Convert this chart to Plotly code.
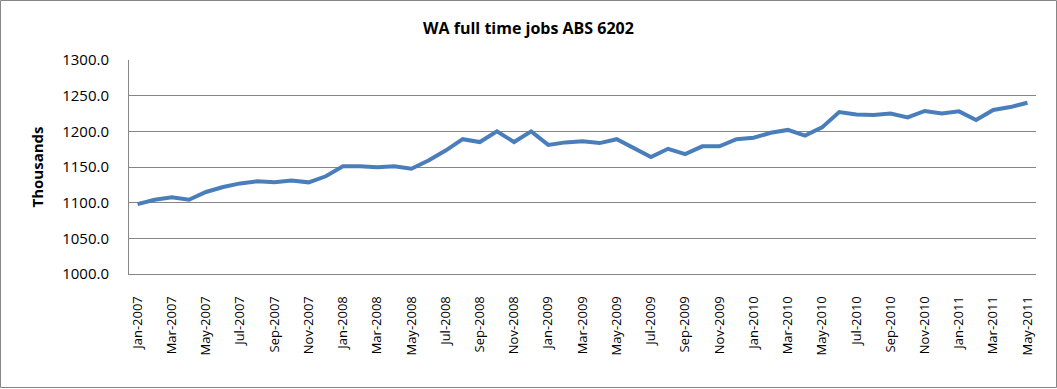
import plotly.graph_objects as go

categories = [
    "Jan-2007", "Feb-2007", "Mar-2007", "Apr-2007", "May-2007", "Jun-2007",
    "Jul-2007", "Aug-2007", "Sep-2007", "Oct-2007", "Nov-2007", "Dec-2007",
    "Jan-2008", "Feb-2008", "Mar-2008", "Apr-2008", "May-2008", "Jun-2008",
    "Jul-2008", "Aug-2008", "Sep-2008", "Oct-2008", "Nov-2008", "Dec-2008",
    "Jan-2009", "Feb-2009", "Mar-2009", "Apr-2009", "May-2009", "Jun-2009",
    "Jul-2009", "Aug-2009", "Sep-2009", "Oct-2009", "Nov-2009", "Dec-2009",
    "Jan-2010", "Feb-2010", "Mar-2010", "Apr-2010", "May-2010", "Jun-2010",
    "Jul-2010", "Aug-2010", "Sep-2010", "Oct-2010", "Nov-2010", "Dec-2010",
    "Jan-2011", "Feb-2011", "Mar-2011", "Apr-2011", "May-2011",
]

full_time_jobs = [
    1098.0, 1104.0, 1107.5, 1104.0, 1115.0, 1122.0,
    1127.0, 1130.0, 1128.5, 1131.0, 1128.5, 1137.0,
    1151.0, 1151.0, 1149.5, 1151.0, 1147.5, 1159.0,
    1173.0, 1189.0, 1185.0, 1200.0, 1185.0, 1200.0,
    1181.0, 1184.5, 1186.0, 1183.5, 1189.0, 1176.5,
    1164.0, 1175.5, 1168.0, 1179.0, 1179.0, 1189.0,
    1191.0, 1198.0, 1202.0, 1194.0, 1205.5, 1227.0,
    1223.5, 1223.0, 1225.0, 1219.5, 1228.5, 1225.0,
    1228.0, 1216.0, 1230.0, 1234.0, 1240.0,
]

x_tick_labels = categories[::2]
y_tick_values = [1000, 1050, 1100, 1150, 1200, 1250, 1300]

W, H = 1057, 389
ML, MR, MT, MB = 129, 21, 60, 115
GRID = "#868686"

fig = go.Figure()
fig.add_trace(go.Scatter(
    x=categories, y=full_time_jobs, mode="lines",
    line=dict(color="#4A7EBB", width=4),
    showlegend=False, hoverinfo="x+y",
))

pw = W - ML - MR
ph = H - MT - MB
fig.add_shape(
    type="rect", xref="paper", yref="paper",
    x0=(0.5 - ML) / pw, x1=(W - 0.5 - ML) / pw,
    y0=-(MB - 1.5) / ph, y1=1 + (MT - 0.5) / ph,
    line=dict(color=GRID, width=1), fillcolor="rgba(0,0,0,0)", layer="below",
)

fig.update_layout(
    width=W, height=H,
    margin=dict(l=ML, r=MR, t=MT, b=MB),
    paper_bgcolor="white", plot_bgcolor="white",
    title=dict(
        text="<b>WA full time jobs ABS 6202</b>",
        x=0.5, xref="container", xanchor="center",
        y=1 - 28 / H, yref="container", yanchor="middle",
        font=dict(family="Open Sans", size=16, color="black"),
    ),
    font=dict(family="Open Sans", color="black"),
)

fig.update_xaxes(
    type="category", categoryorder="array", categoryarray=categories,
    range=[-0.5, len(categories) - 0.5],
    tickmode="array", tickvals=x_tick_labels, ticktext=x_tick_labels,
    tickangle=-90, ticks="", ticklabelstandoff=16,
    tickfont=dict(family="Open Sans", size=13, color="black"),
    showline=True, linecolor=GRID, linewidth=1,
    showgrid=False, zeroline=False,
)

fig.update_yaxes(
    range=[1000, 1300], tickmode="array", tickvals=y_tick_values,
    tickformat=".1f", ticks="", ticklabelstandoff=16,
    tickfont=dict(family="Open Sans", size=15, color="black"),
    showline=True, linecolor=GRID, linewidth=1,
    showgrid=True, gridcolor=GRID, gridwidth=1, zeroline=False,
    title=dict(text="<b>Thousands</b>", standoff=14,
               font=dict(family="Open Sans", size=15, color="black")),
)

fig.write_html("out.html")
